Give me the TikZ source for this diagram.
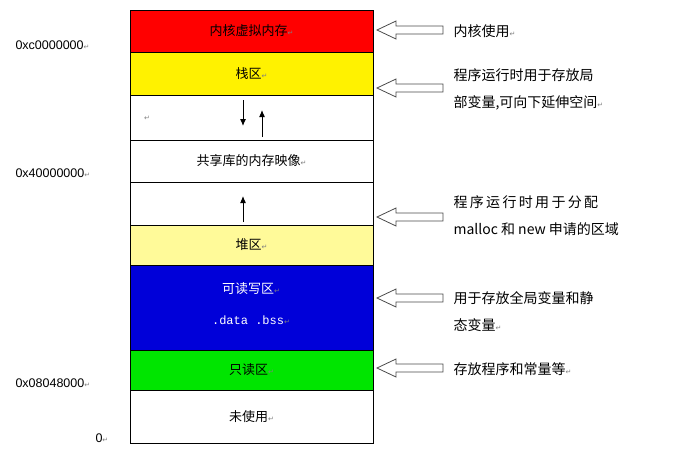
\documentclass[tikz,border=0pt]{standalone}
\usepackage{fontspec}
\usetikzlibrary{arrows.meta}
\setmainfont{Liberation Sans}
\newfontfamily\cjk{Noto Sans CJK SC}
\newfontfamily\dv{DejaVu Sans}
\newfontfamily\mono{Liberation Mono}
\begin{document}
\begin{tikzpicture}[x=1pt,y=-1pt,
  cell/.style={draw=black,line width=0.8pt},
  lbl/.style={font=\cjk\fontsize{13}{15}\selectfont,anchor=center},
  addr/.style={font=\fontsize{12.5}{15}\selectfont,anchor=west},
  note/.style={font=\cjk\fontsize{14}{27}\selectfont,anchor=west,align=left},
  hollow/.style={draw=black!70,line width=0.8pt,fill=white},
  pm/.style={font=\dv\fontsize{7}{8}\selectfont,text=gray},
  ar/.style={-{Latex[length=7pt,width=6pt]},line width=1pt}]
\useasboundingbox (0,0) rectangle (678,467);
\def\pmk{{\dv\fontsize{7}{8}\selectfont\textcolor{gray}{↵}}}
% cells
\path[cell,fill=red] (130,10) rectangle (373,52) node[lbl,midway] (c1) {内核虚拟内存\pmk};
\path[cell,fill=yellow] (130,52) rectangle (373,95) node[lbl,midway] (c2) {栈区\pmk};
\path[cell,fill=white] (130,95) rectangle (373,140) coordinate (c3);
\node[pm] (pm3) at (147,118) {↵};
\path[cell,fill=white] (130,140) rectangle (373,182) node[lbl,midway] (c4) {共享库的内存映像\pmk};
\path[cell,fill=white] (130,182) rectangle (373,225);
\path[cell,fill=yellow!40] (130,225) rectangle (373,265) node[lbl,midway] (c6) {堆区\pmk};
\path[cell,fill=blue!85!black] (130,265) rectangle (373,350);
\node[lbl,text=white] (c7) at (251,289) {可读写区\pmk};
\node[font=\mono\fontsize{12}{14}\selectfont,text=white] (c7b) at (251,320) {.data .bss\pmk};
\path[cell,fill=green!90!black] (130,350) rectangle (373,390) node[lbl,midway] (c8) {只读区\pmk};
\path[cell,fill=white] (130,390) rectangle (373,443) node[lbl,midway] (c9) {未使用\pmk};
% inner arrows
\coordinate (a1s) at (243,100); \coordinate (a1e) at (243,126);
\coordinate (a2s) at (262,137); \coordinate (a2e) at (262,110);
\coordinate (a3s) at (243,222); \coordinate (a3e) at (243,196);
\draw[ar] (a1s) -- (a1e);
\draw[ar] (a2s) -- (a2e);
\draw[ar] (a3s) -- (a3e);
% addresses
\node[addr] (d1) at (12,45) {0xc0000000\pmk};
\node[addr] (d2) at (12,173) {0x40000000\pmk};
\node[addr] (d3) at (12,383) {0x08048000\pmk};
\node[addr] (d4) at (92,438) {0\pmk};
% hollow arrows
\foreach \y in {30,88,217,298,368}{
  \draw[hollow] (377,\y) -- (396,\y-9) -- (396,\y-4) -- (443,\y-4) -- (443,\y+4) -- (396,\y+4) -- (396,\y+9) -- cycle;
}
% notes
\node[note] (n1) at (450,31) {内核使用\pmk};
\node[note] (n2) at (450,89) {程序运行时用于存放局\\部变量,可向下延伸空间\pmk};
\node[note] (n3) at (450,216) {程\,序\,运\,行\,时\,用\,于\,分\,配\\malloc 和 new 申请的区域};
\node[note] (n4) at (450,312) {用于存放全局变量和静\\态变量\pmk};
\node[note] (n5) at (450,369) {存放程序和常量等\pmk};
\end{tikzpicture}
\end{document}
